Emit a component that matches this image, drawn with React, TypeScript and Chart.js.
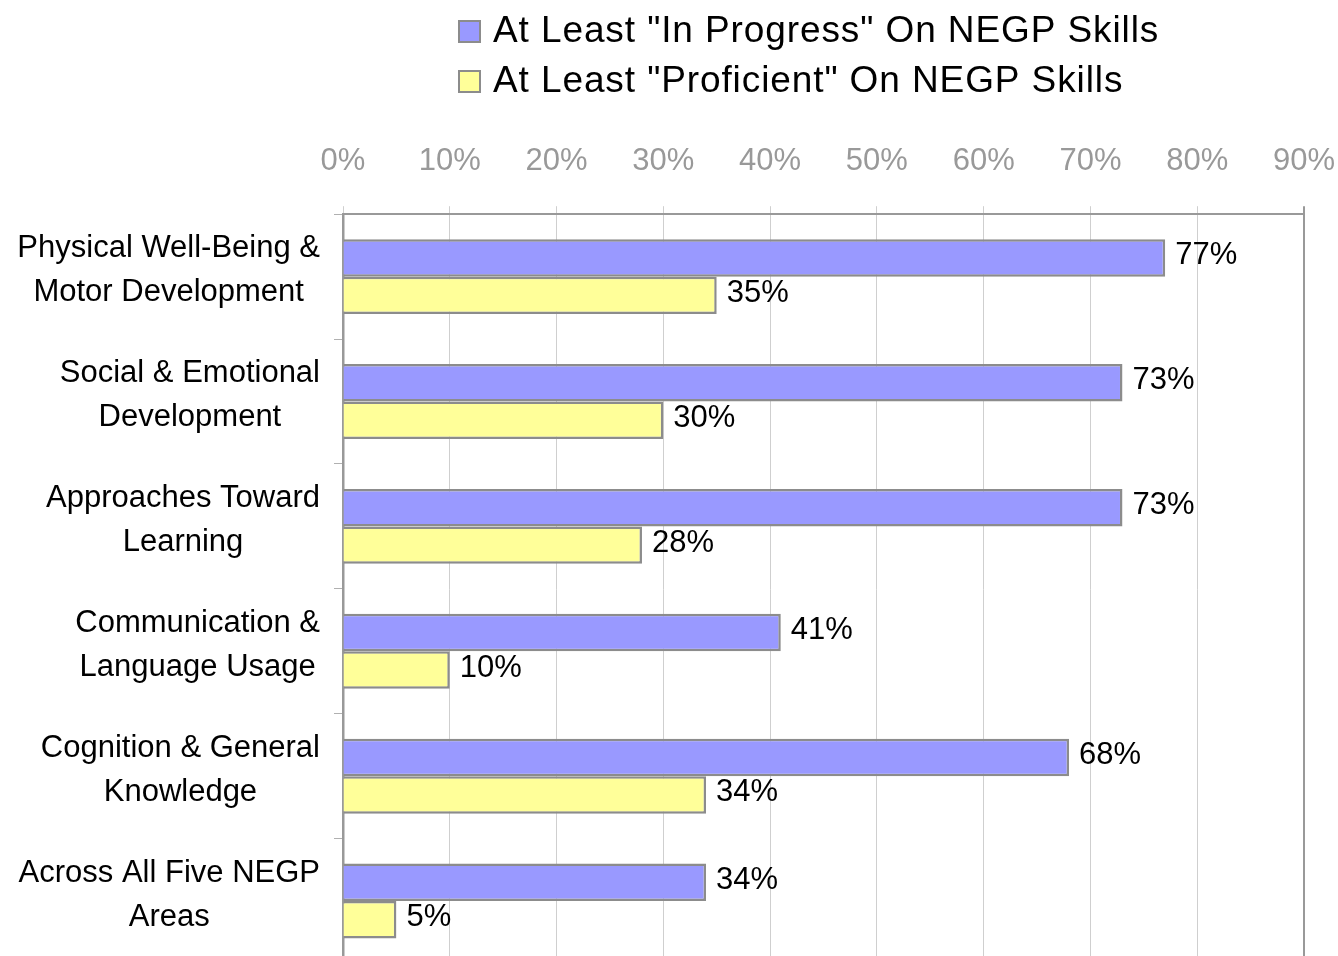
import React, { useEffect, useRef } from "react";
import { Chart, registerables } from "chart.js";

Chart.register(...registerables);

const categories: string[][] = [
  ["Physical Well-Being &", "Motor Development"],
  ["Social & Emotional", "Development"],
  ["Approaches Toward", "Learning"],
  ["Communication &", "Language Usage"],
  ["Cognition & General", "Knowledge"],
  ["Across All Five NEGP", "Areas"],
];
const seriesNames = [
  'At Least "In Progress" On NEGP Skills',
  'At Least "Proficient" On NEGP Skills',
];
const inProgress = [77, 73, 73, 41, 68, 34];
const proficient = [35, 30, 28, 10, 34, 5];
const tickValues = [0, 10, 20, 30, 40, 50, 60, 70, 80, 90];

const FONT = "'Liberation Sans', Arial, sans-serif";
const PURPLE = "#9999FF";
const YELLOW = "#FFFF99";
const BORDER = "#8C8C8C";

export default function App() {
  const ref = useRef<HTMLCanvasElement | null>(null);

  useEffect(() => {
    if (!ref.current) return;
    document.body.style.overflow = "hidden";

    const legendPlugin = {
      id: "customLegend",
      afterDraw(chart: any) {
        const ctx = chart.ctx;
        ctx.save();
        const colors = [PURPLE, YELLOW];
        seriesNames.forEach((name, i) => {
          const y = 31 + i * 50;
          ctx.fillStyle = colors[i];
          ctx.fillRect(459, y - 10, 21, 21);
          ctx.strokeStyle = BORDER;
          ctx.lineWidth = 2;
          ctx.strokeRect(459, y - 10, 21, 21);
          ctx.fillStyle = "#000";
          ctx.font = `37px ${FONT}`;
          (ctx as any).letterSpacing = "0.9px";
          ctx.textAlign = "left";
          ctx.textBaseline = "middle";
          ctx.fillText(name, 493, y + 1);
        });
        ctx.restore();
      },
    };

    const labelsPlugin = {
      id: "customLabels",
      afterDatasetsDraw(chart: any) {
        const ctx = chart.ctx;
        ctx.save();
        ctx.font = `31px ${FONT}`;
        ctx.fillStyle = "#000";
        ctx.textAlign = "left";
        ctx.textBaseline = "middle";
        chart.data.datasets.forEach((ds: any, di: number) => {
          const meta = chart.getDatasetMeta(di);
          meta.data.forEach((bar: any, i: number) => {
            ctx.fillText(`${ds.data[i]}%`, bar.x + 10, bar.y - 2);
          });
        });
        const yScale = chart.scales.y;
        categories.forEach((lines, i) => {
          const cy = yScale.getPixelForValue(i) - 6;
          const widths = lines.map((l) => ctx.measureText(l).width);
          const maxW = Math.max(...widths);
          const cx = 320 - maxW / 2;
          ctx.textAlign = "center";
          lines.forEach((l, li) => {
            const y = cy + (li - (lines.length - 1) / 2) * 44;
            ctx.fillText(l, cx, y);
          });
        });
        ctx.restore();
      },
    };

    const chart = new Chart(ref.current, {
      type: "bar",
      data: {
        labels: categories.map((c) => c.join(" ")),
        datasets: [
          {
            label: seriesNames[0],
            data: inProgress,
            backgroundColor: PURPLE,
            borderColor: BORDER,
            borderWidth: 2.5,
            categoryPercentage: 0.6,
            barPercentage: 1.0,
          },
          {
            label: seriesNames[1],
            data: proficient,
            backgroundColor: YELLOW,
            borderColor: BORDER,
            borderWidth: 2.5,
            categoryPercentage: 0.6,
            barPercentage: 1.0,
          },
        ],
      },
      options: {
        indexAxis: "y",
        animation: false,
        responsive: false,
        maintainAspectRatio: false,
        layout: { padding: { top: 117, left: 0, right: 34, bottom: 16.5 } },
        plugins: {
          legend: { display: false },
          tooltip: { enabled: false },
        },
        scales: {
          x: {
            position: "top",
            min: 0,
            max: 90,
            afterBuildTicks: (scale: any) => {
              scale.ticks = tickValues.map((v) => ({ value: v }));
            },
            afterFit: (scale: any) => {
              scale.paddingRight = 0;
              scale.paddingLeft = 0;
            },
            ticks: {
              color: "#999999",
              font: { family: FONT, size: 31 },
              padding: 26,
              callback: (v: any) => `${v}%`,
            },
            grid: {
              color: (c: any) => (c.tick && c.tick.value === 90 ? "#999999" : "#CFCFCF"),
              lineWidth: (c: any) => (c.tick && c.tick.value === 90 ? 2 : 1),
              tickLength: 8,
            },
            border: { color: "#999999", width: 2 },
          },
          y: {
            offset: true,
            afterFit: (scale: any) => {
              scale.width = 343;
            },
            ticks: { display: false },
            grid: {
              offset: true,
              drawOnChartArea: false,
              drawTicks: true,
              tickLength: 9,
              color: "#B0B0B0",
            },
            border: { color: "#999999", width: 2.5 },
          },
        },
      },
      plugins: [legendPlugin, labelsPlugin],
    });
    return () => chart.destroy();
  }, []);

  return (
    <div style={{ position: "fixed", left: 0, top: 0, width: 1338, height: 980, background: "#fff" }}>
      <canvas ref={ref} width={1338} height={980} style={{ width: 1338, height: 980 }} />
    </div>
  );
}
